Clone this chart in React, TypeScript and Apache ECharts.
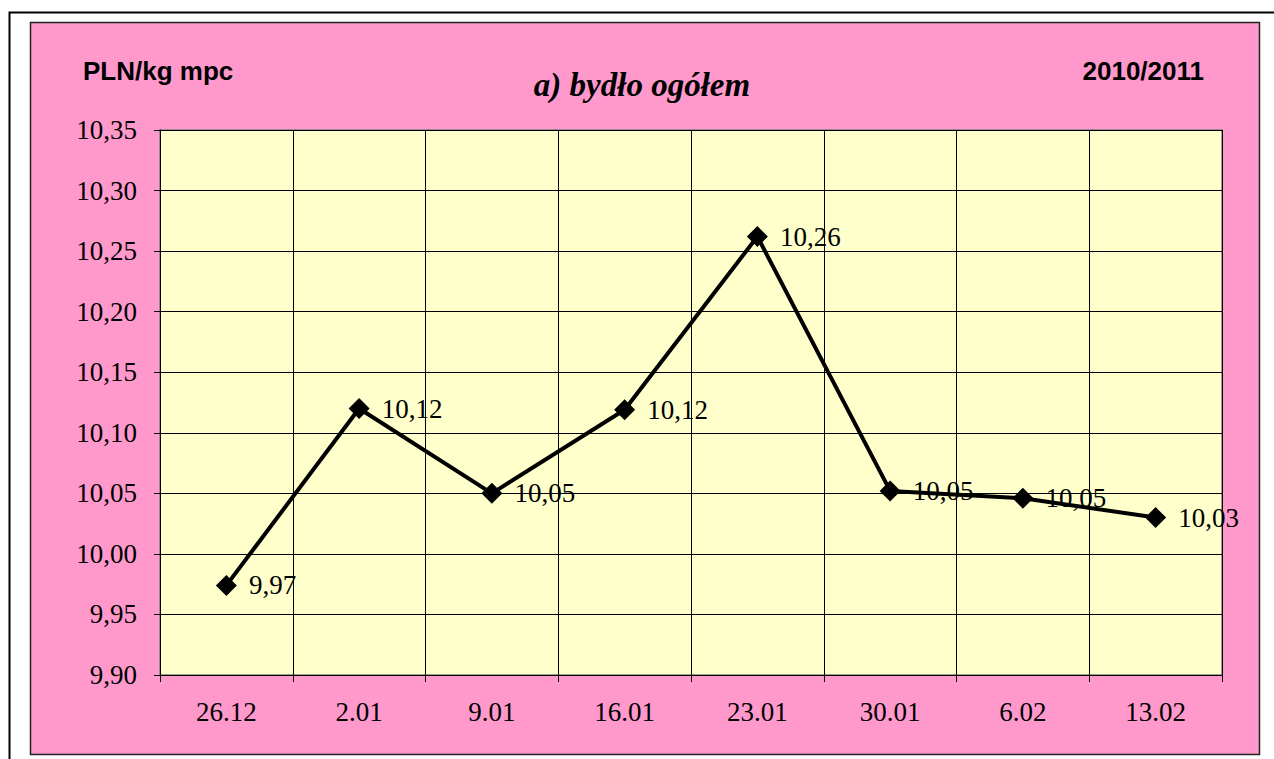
import React, { useEffect, useRef } from "react";
import * as echarts from "echarts";

const categories = ["26.12", "2.01", "9.01", "16.01", "23.01", "30.01", "6.02", "13.02"];
const prices = [9.974, 10.12, 10.05, 10.119, 10.262, 10.052, 10.046, 10.03];
const yMin = 9.9;
const yMax = 10.35;
const yStep = 0.05;
const unitLabel = "PLN/kg mpc";
const titleText = "a) bydło ogółem";
const seasonLabel = "2010/2011";

const fmt = (v: number) => v.toFixed(2).replace(".", ",");
const SERIF = "Liberation Serif";
const SANS = "Liberation Sans";

export default function App() {
  const ref = useRef<HTMLDivElement>(null);
  useEffect(() => {
    if (!ref.current) return;
    const chart = echarts.init(ref.current, null, { renderer: "svg" });
    chart.setOption({
      animation: false,
      backgroundColor: "#ffffff",
      graphic: [
        {
          type: "rect",
          z: -10,
          shape: { x: 9.5, y: 12.5, width: 1277, height: 760 },
          style: { fill: "#ffffff", stroke: "#000000", lineWidth: 2 },
          silent: true,
        },
        {
          type: "rect",
          z: -9,
          shape: { x: 30.5, y: 22.5, width: 1229, height: 732 },
          style: { fill: "#FF99CC", stroke: "#222222", lineWidth: 1.5 },
          silent: true,
        },
        {
          type: "text",
          x: 83,
          y: 71,
          style: {
            text: unitLabel,
            fontFamily: SANS,
            fontWeight: "bold",
            fontSize: 26,
            fill: "#000",
            textVerticalAlign: "middle",
          },
        },
        {
          type: "text",
          x: 642,
          y: 85,
          style: {
            text: titleText,
            fontFamily: SERIF,
            fontWeight: "bold",
            fontStyle: "italic",
            fontSize: 33,
            fill: "#000",
            textAlign: "center",
            textVerticalAlign: "middle",
          },
        },
        {
          type: "text",
          x: 1204,
          y: 71,
          style: {
            text: seasonLabel,
            fontFamily: SANS,
            fontWeight: "bold",
            fontSize: 26,
            fill: "#000",
            textAlign: "right",
            textVerticalAlign: "middle",
          },
        },
      ],
      grid: {
        left: 160,
        top: 130,
        width: 1062,
        height: 545,
        show: true,
        backgroundColor: "#FFFFCC",
        borderColor: "#808080",
        borderWidth: 1.5,
      },
      xAxis: {
        type: "category",
        data: categories,
        boundaryGap: true,
        axisLine: { lineStyle: { color: "#000", width: 1 } },
        axisTick: { show: true, alignWithLabel: false, length: 7, lineStyle: { color: "#000" } },
        splitLine: { show: true, lineStyle: { color: "#000", width: 1 } },
        axisLabel: {
          margin: 23,
          fontFamily: SERIF,
          fontSize: 27,
          color: "#000",
        },
      },
      yAxis: {
        type: "value",
        min: yMin,
        max: yMax,
        interval: yStep,
        axisLine: { show: true, lineStyle: { color: "#000", width: 1 } },
        axisTick: { show: true, length: 6, lineStyle: { color: "#000" } },
        splitLine: { show: true, lineStyle: { color: "#000", width: 1 } },
        axisLabel: {
          margin: 23,
          fontFamily: SERIF,
          fontSize: 27,
          color: "#000",
          formatter: (v: number) => fmt(v),
        },
      },
      series: [
        {
          type: "line",
          data: prices,
          symbol: "diamond",
          symbolSize: 21,
          lineStyle: { color: "#000", width: 4 },
          itemStyle: { color: "#000" },
          label: {
            show: true,
            position: "right",
            distance: 12,
            fontFamily: SERIF,
            fontSize: 27,
            color: "#000",
            formatter: (p: any) => fmt(p.value),
          },
        },
      ],
    });
    return () => chart.dispose();
  }, []);
  return (
    <div
      ref={ref}
      style={{ position: "fixed", left: 0, top: 0, width: 1274, height: 759 }}
    />
  );
}
